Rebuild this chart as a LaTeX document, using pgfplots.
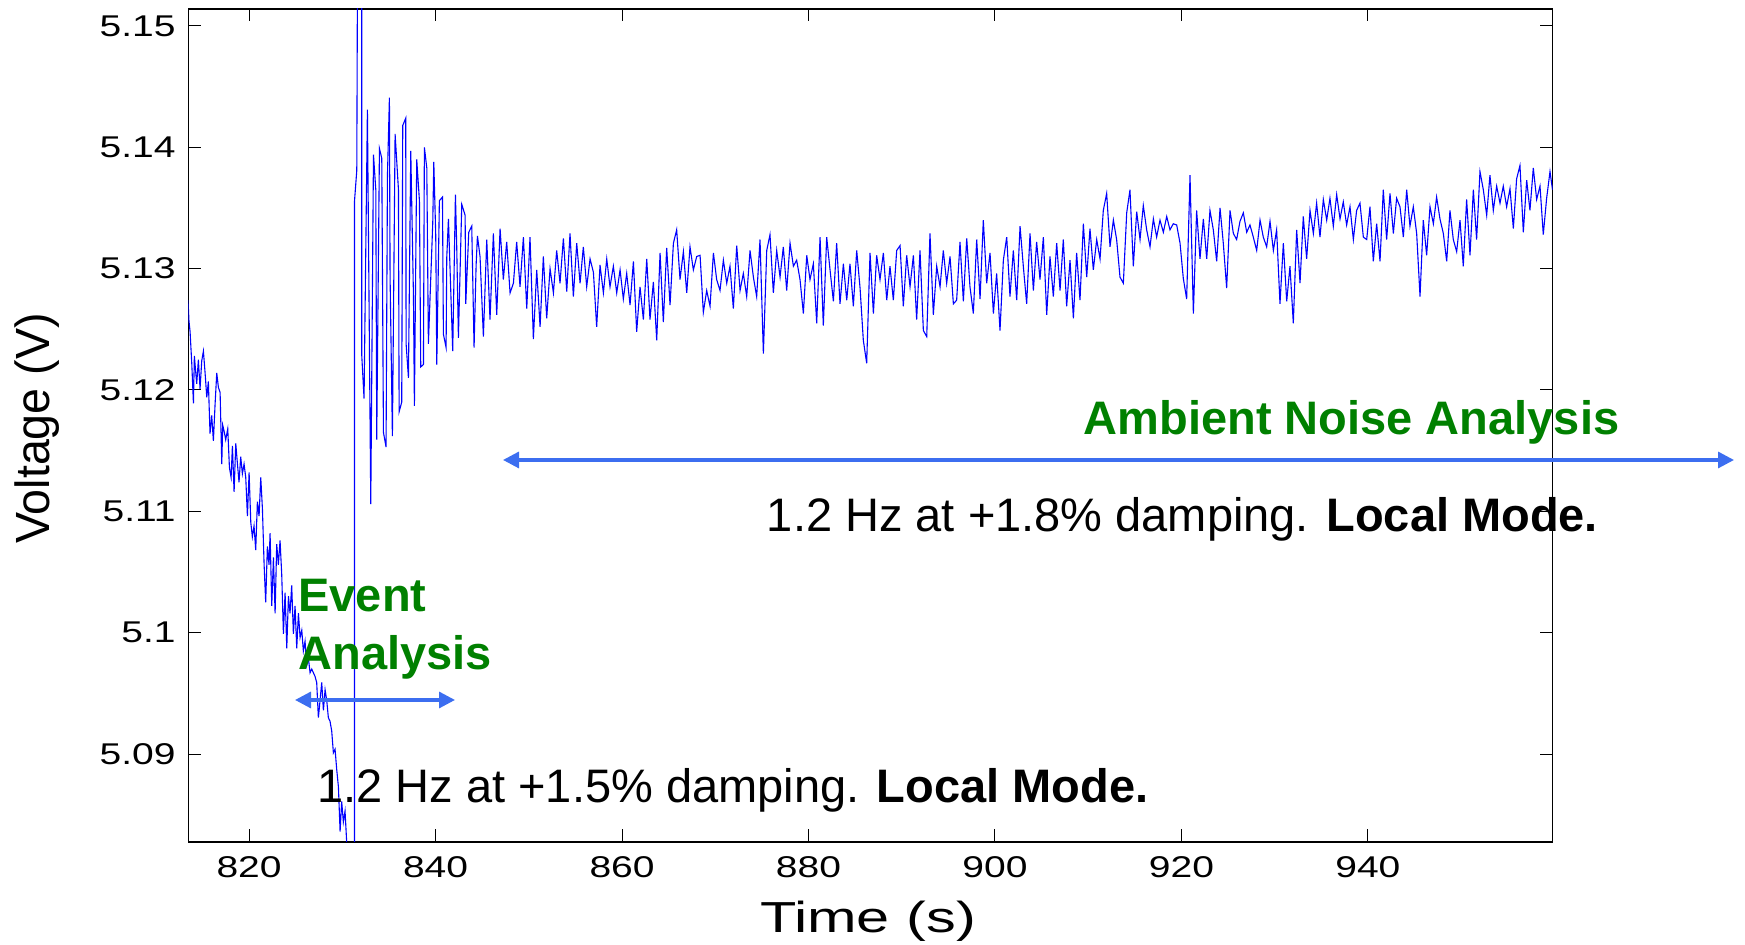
\documentclass[border=0pt]{standalone}
\usepackage{fontspec}
\setmainfont{Liberation Sans}
\newfontfamily\tickfont[FakeStretch=1.3]{Liberation Sans}
\newfontfamily\labfont[FakeStretch=1.37]{Liberation Sans}
\newfontfamily\ylabfont[FakeStretch=0.97]{Liberation Sans}
\usepackage{pgfplots}
\pgfplotsset{compat=1.18}
\usetikzlibrary{arrows.meta}
\definecolor{annblue}{RGB}{60,110,240}
\definecolor{anngreen}{RGB}{0,128,0}
\begin{document}
\begin{tikzpicture}
\path[use as bounding box] (-94.25pt,-51.5pt) rectangle (778.25pt,421pt);
\begin{axis}[
  scale only axis, width=682pt, height=416.5pt,
  xmin=813.5, xmax=959.8, ymin=5.08275, ymax=5.1514,
  xtick={820,840,860,880,900,920,940},
  xticklabels={820,840,860,880,900,920,940},
  ytick={5.09,5.1,5.11,5.12,5.13,5.14,5.15},
  yticklabels={5.09,5.1,5.11,5.12,5.13,5.14,5.15},
  tick align=inside, major tick length=6.25pt,
  tick style={black, line width=0.5pt},
  axis line style={line width=0.75pt},
  /pgf/number format/assume math mode=true,
  ticklabel style={font=\tickfont\fontsize{15pt}{18pt}\selectfont, inner sep=0pt},
  xticklabel style={anchor=north, yshift=-7pt},
  yticklabel style={anchor=east, xshift=-6.25pt},
  xlabel={Time (s)}, ylabel={Voltage (V)},
  xlabel style={font=\labfont\fontsize{21.7pt}{26pt}\selectfont, at={(axis description cs:0.49817,-0.10888)}, anchor=base, inner sep=0pt},
  ylabel style={font=\ylabfont\fontsize{24pt}{28pt}\selectfont, at={(axis description cs:-0.10154,0.4964)}, anchor=base, inner sep=0pt},
]
\addplot[color={rgb,255:red,0;green,0;blue,255}, line width=0.55pt, mark=none] table {
t v
813.45 5.1274
813.55 5.1257
813.67 5.1248
813.85 5.1222
814.03 5.1189
814.13 5.1228
814.38 5.1205
814.56 5.1225
814.74 5.1201
814.92 5.1224
815.10 5.1232
815.28 5.1214
815.46 5.1194
815.63 5.1207
815.81 5.1164
815.99 5.1179
816.17 5.1158
816.35 5.1188
816.53 5.1214
816.71 5.1202
816.89 5.1198
817.07 5.1139
817.17 5.1171
817.35 5.1165
817.49 5.1159
817.71 5.1168
817.89 5.1136
818.07 5.1128
818.21 5.1154
818.39 5.1116
818.57 5.1156
818.75 5.1139
818.92 5.1124
819.10 5.1145
819.28 5.1131
819.46 5.1139
819.64 5.1128
819.82 5.1096
820.00 5.1132
820.18 5.1091
820.35 5.1079
820.53 5.1088
820.71 5.1068
820.89 5.1108
821.07 5.1096
821.25 5.1128
821.43 5.1102
821.61 5.1056
821.78 5.1025
821.96 5.1071
822.14 5.1056
822.25 5.1082
822.43 5.1022
822.61 5.1062
822.79 5.1016
822.96 5.1073
823.14 5.1056
823.32 5.1076
823.50 5.1048
823.68 5.0999
823.86 5.1033
824.04 5.0987
824.22 5.1030
824.39 5.1016
824.57 5.1039
824.75 5.0999
824.93 5.1022
825.11 5.0987
825.29 5.1016
825.47 5.0996
825.65 5.1002
825.82 5.0985
826.00 5.0993
826.18 5.0973
826.36 5.0979
826.54 5.0967
826.72 5.0970
827.07 5.0964
827.25 5.0959
827.43 5.0930
827.61 5.0944
827.79 5.0959
827.97 5.0936
828.15 5.0953
828.33 5.0944
828.50 5.0930
828.68 5.0927
828.86 5.0919
829.04 5.0901
829.22 5.0904
829.40 5.0887
829.58 5.0873
829.76 5.0836
829.93 5.0861
830.11 5.0844
830.29 5.0853
830.47 5.0827
830.65 5.0816
830.83 5.0804
831.00 5.0780
831.20 5.0775
831.30 5.0760
831.30 5.1355
831.55 5.1381
831.65 5.1600
832.08 5.1600
832.08 5.1229
832.33 5.1193
832.69 5.1431
833.05 5.1106
833.34 5.1394
833.59 5.1365
833.69 5.1159
833.98 5.1399
834.23 5.1391
834.41 5.1165
834.69 5.1153
834.84 5.1377
835.05 5.1441
835.12 5.1294
835.37 5.1162
835.66 5.1411
836.02 5.1365
836.09 5.1182
836.37 5.1190
836.48 5.1418
836.80 5.1424
836.84 5.1238
837.09 5.1210
837.34 5.1397
837.63 5.1277
837.73 5.1187
837.98 5.1390
838.27 5.1356
838.41 5.1219
838.70 5.1221
838.80 5.1400
839.06 5.1383
839.23 5.1238
839.70 5.1338
839.81 5.1388
840.02 5.1327
840.13 5.1221
840.41 5.1356
840.74 5.1359
840.84 5.1246
841.13 5.1235
841.20 5.1309
841.38 5.1341
841.84 5.1232
842.13 5.1361
842.27 5.1318
842.45 5.1243
842.81 5.1353
843.17 5.1344
843.24 5.1271
843.56 5.1330
843.88 5.1335
844.13 5.1235
844.35 5.1303
844.49 5.1327
844.77 5.1310
845.13 5.1244
845.49 5.1324
845.84 5.1258
846.20 5.1329
846.56 5.1262
846.92 5.1333
847.27 5.1291
847.63 5.1322
847.99 5.1280
848.35 5.1288
848.70 5.1322
849.06 5.1285
849.42 5.1326
849.78 5.1267
850.13 5.1326
850.49 5.1242
850.85 5.1299
851.21 5.1252
851.56 5.1310
851.92 5.1259
852.28 5.1300
852.64 5.1280
852.99 5.1315
853.35 5.1288
853.71 5.1325
854.07 5.1281
854.42 5.1329
854.78 5.1277
855.14 5.1321
855.50 5.1288
855.85 5.1318
856.21 5.1285
856.57 5.1308
856.93 5.1297
857.28 5.1252
857.64 5.1303
858.00 5.1280
858.36 5.1308
858.71 5.1285
859.07 5.1302
859.43 5.1280
859.79 5.1299
860.14 5.1275
860.50 5.1296
860.86 5.1270
861.22 5.1306
861.57 5.1248
861.93 5.1285
862.29 5.1258
862.65 5.1308
863.00 5.1258
863.36 5.1289
863.72 5.1241
864.08 5.1313
864.43 5.1256
864.79 5.1317
865.15 5.1270
865.51 5.1321
865.86 5.1332
866.22 5.1291
866.58 5.1314
866.94 5.1280
867.29 5.1318
867.65 5.1299
868.01 5.1310
868.37 5.1311
868.72 5.1264
869.08 5.1282
869.44 5.1269
869.80 5.1313
870.15 5.1291
870.51 5.1282
870.87 5.1307
871.23 5.1288
871.58 5.1302
871.94 5.1267
872.30 5.1319
872.66 5.1282
873.01 5.1296
873.37 5.1277
873.73 5.1315
874.09 5.1293
874.44 5.1277
874.80 5.1324
875.16 5.1230
875.52 5.1315
875.87 5.1328
876.23 5.1280
876.59 5.1315
876.95 5.1293
877.30 5.1318
877.66 5.1282
878.02 5.1321
878.38 5.1302
878.73 5.1307
879.09 5.1291
879.45 5.1263
879.81 5.1311
880.16 5.1291
880.52 5.1304
880.88 5.1255
881.24 5.1326
881.59 5.1253
881.95 5.1326
882.31 5.1299
882.67 5.1273
883.02 5.1321
883.38 5.1271
883.74 5.1304
884.10 5.1274
884.45 5.1304
884.81 5.1269
885.17 5.1315
885.53 5.1284
885.88 5.1241
886.24 5.1222
886.60 5.1313
886.96 5.1263
887.31 5.1311
887.67 5.1291
888.03 5.1313
888.39 5.1274
888.74 5.1302
889.10 5.1274
889.46 5.1315
889.82 5.1319
890.17 5.1269
890.53 5.1311
890.89 5.1285
891.25 5.1311
891.60 5.1258
891.96 5.1315
892.32 5.1249
892.68 5.1244
893.03 5.1329
893.39 5.1262
893.75 5.1302
894.11 5.1285
894.46 5.1315
894.82 5.1288
895.18 5.1310
895.54 5.1271
895.89 5.1274
896.25 5.1322
896.61 5.1273
896.97 5.1325
897.32 5.1285
897.68 5.1263
898.04 5.1324
898.40 5.1275
898.75 5.1340
899.11 5.1288
899.47 5.1313
899.83 5.1263
900.18 5.1296
900.54 5.1249
900.90 5.1307
901.26 5.1326
901.61 5.1277
901.97 5.1315
902.33 5.1274
902.69 5.1335
903.04 5.1302
903.40 5.1271
903.76 5.1329
904.12 5.1282
904.47 5.1322
904.83 5.1291
905.19 5.1326
905.55 5.1262
905.90 5.1310
906.26 5.1277
906.62 5.1321
906.98 5.1282
907.33 5.1324
907.69 5.1269
908.05 5.1307
908.41 5.1259
908.76 5.1313
909.12 5.1274
909.48 5.1337
909.84 5.1293
910.19 5.1333
910.55 5.1299
910.91 5.1324
911.27 5.1308
911.62 5.1348
911.98 5.1362
912.34 5.1318
912.70 5.1340
913.05 5.1324
913.41 5.1293
913.77 5.1288
914.13 5.1346
914.48 5.1365
914.84 5.1302
915.20 5.1347
915.56 5.1324
915.91 5.1352
916.27 5.1332
916.63 5.1318
916.99 5.1341
917.34 5.1326
917.70 5.1340
918.06 5.1330
918.42 5.1343
918.77 5.1332
919.13 5.1337
919.49 5.1336
919.85 5.1321
920.20 5.1292
920.56 5.1275
920.92 5.1377
921.28 5.1263
921.63 5.1348
921.99 5.1308
922.35 5.1341
922.71 5.1308
923.06 5.1348
923.42 5.1332
923.78 5.1306
924.14 5.1350
924.49 5.1321
924.85 5.1284
925.21 5.1348
925.57 5.1329
925.92 5.1324
926.28 5.1339
926.64 5.1346
927.00 5.1330
927.35 5.1336
927.71 5.1326
928.07 5.1315
928.43 5.1340
928.78 5.1326
929.14 5.1318
929.50 5.1339
929.86 5.1315
930.21 5.1332
930.57 5.1271
930.93 5.1321
931.29 5.1273
931.64 5.1302
932.00 5.1255
932.36 5.1332
932.72 5.1288
933.07 5.1343
933.43 5.1308
933.79 5.1348
934.15 5.1329
934.50 5.1354
934.86 5.1326
935.22 5.1357
935.58 5.1340
935.93 5.1358
936.29 5.1335
936.65 5.1361
937.01 5.1341
937.36 5.1355
937.72 5.1336
938.08 5.1351
938.44 5.1324
938.79 5.1348
939.15 5.1354
939.51 5.1326
939.87 5.1324
940.22 5.1351
940.58 5.1306
940.94 5.1337
941.30 5.1306
941.65 5.1365
942.01 5.1324
942.37 5.1362
942.73 5.1329
943.08 5.1358
943.44 5.1351
943.80 5.1326
944.16 5.1365
944.51 5.1335
944.87 5.1351
945.23 5.1329
945.59 5.1277
945.94 5.1340
946.30 5.1311
946.66 5.1351
947.02 5.1337
947.37 5.1359
947.73 5.1341
948.09 5.1329
948.45 5.1306
948.80 5.1348
949.16 5.1324
949.52 5.1314
949.88 5.1340
950.23 5.1302
950.59 5.1357
950.95 5.1311
951.31 5.1365
951.66 5.1324
952.02 5.1380
952.38 5.1365
952.74 5.1344
953.09 5.1377
953.45 5.1348
953.81 5.1368
954.17 5.1354
954.52 5.1368
954.88 5.1351
955.24 5.1366
955.60 5.1333
955.95 5.1374
956.31 5.1385
956.67 5.1330
957.03 5.1373
957.38 5.1348
957.74 5.1383
958.10 5.1357
958.46 5.1368
958.81 5.1328
959.17 5.1358
959.53 5.1380
959.80 5.1365
};
\end{axis}
\node[anchor=base west, inner sep=0pt, text=anngreen, font=\bfseries\fontsize{23.5pt}{28pt}\selectfont] at (447.5pt,203.5pt) {Ambient Noise Analysis};
\draw[annblue, line width=1.6pt, {Triangle[length=8pt,width=8pt]}-{Triangle[length=8pt,width=8pt]}] (157.25pt,191pt) -- (772.75pt,191pt);
\node[anchor=base west, inner sep=0pt, font=\fontsize{23.5pt}{28pt}\selectfont] at (289pt,155pt) {1.2 Hz at +1.8\% damping. \textbf{Local Mode.}};
\node[anchor=base west, inner sep=0pt, text=anngreen, font=\bfseries\fontsize{23.5pt}{28pt}\selectfont] at (54.75pt,115pt) {Event};
\node[anchor=base west, inner sep=0pt, text=anngreen, font=\bfseries\fontsize{23.5pt}{28pt}\selectfont] at (54.75pt,86pt) {Analysis};
\draw[annblue, line width=1.6pt, {Triangle[length=8pt,width=8pt]}-{Triangle[length=8pt,width=8pt]}] (53.25pt,71pt) -- (133.25pt,71pt);
\node[anchor=base west, inner sep=0pt, font=\fontsize{23.5pt}{28pt}\selectfont] at (64.25pt,19.5pt) {1.2 Hz at +1.5\% damping. \textbf{Local Mode.}};
\end{tikzpicture}
\end{document}
